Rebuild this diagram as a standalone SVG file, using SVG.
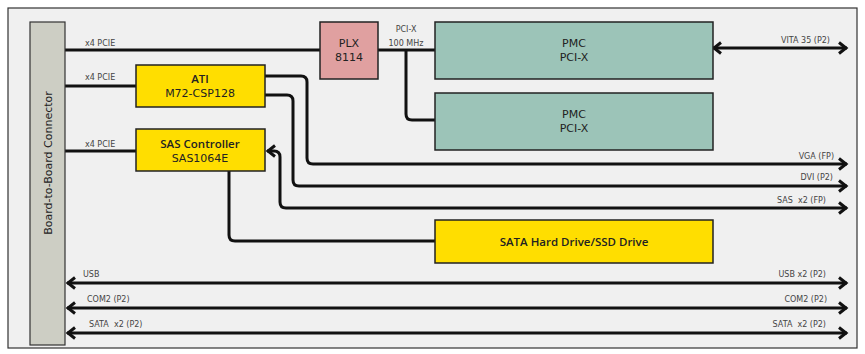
<svg xmlns="http://www.w3.org/2000/svg" width="865" height="354" viewBox="0 0 865 354">
<style>
.box{stroke:#222;stroke-width:1.5}
.yel{fill:#ffde00}
.pmc{fill:#9cc4b8}
.plx{fill:#e0a0a0}
.conn{fill:none;stroke:#111;stroke-width:3}
.t{font-family:"DejaVu Sans",sans-serif;font-size:11px;fill:#222;text-anchor:middle}
.b{font-family:"Open Sans","DejaVu Sans",sans-serif;font-weight:600;font-size:11.5px}
.l{font-family:"DejaVu Sans",sans-serif;font-size:8px;fill:#444;white-space:pre}
.r{text-anchor:end}
.m{text-anchor:middle}
</style>
<defs>
<marker id="ah" markerUnits="userSpaceOnUse" markerWidth="16" markerHeight="16" viewBox="-12 -8 16 16" refX="0" refY="0" orient="auto-start-reverse">
<path d="M-8,-5.5 L-1,0 L-8,5.5" fill="none" stroke="#111" stroke-width="3"/>
</marker>
</defs>
<rect x="8" y="8" width="849" height="340" fill="#f0f0f0" stroke="#333" stroke-width="1.2"/>

<g id="connectors">
<path class="conn" d="M65,50 H320"/>
<path class="conn" d="M378,50 H435"/>
<path class="conn" d="M406,50 V114 Q406,120 412,120 H435"/>
<path class="conn" d="M713,48 H847" marker-start="url(#ah)" marker-end="url(#ah)"/>
<path class="conn" d="M65,86 H136"/>
<path class="conn" d="M65,151 H136"/>
<path class="conn" d="M265,76 H301 Q307,76 307,82 V158 Q307,164 313,164 H847" marker-end="url(#ah)"/>
<path class="conn" d="M265,95 H287 Q293,95 293,101 V180 Q293,186 299,186 H847" marker-end="url(#ah)"/>
<path class="conn" d="M847,208 H286 Q280,208 280,202 V157 Q280,151 274,151 H267" marker-start="url(#ah)" marker-end="url(#ah)"/>
<path class="conn" d="M229,171 V235 Q229,241 235,241 H435"/>
<path class="conn" d="M67,283 H847" marker-start="url(#ah)" marker-end="url(#ah)"/>
<path class="conn" d="M67,308 H847" marker-start="url(#ah)" marker-end="url(#ah)"/>
<path class="conn" d="M67,333 H847" marker-start="url(#ah)" marker-end="url(#ah)"/>
<text class="l" x="85" y="46">x4 PCIE</text>
<text class="l" x="85" y="80">x4 PCIE</text>
<text class="l" x="85" y="147">x4 PCIE</text>
<text class="l m" x="406" y="32">PCI-X</text>
<text class="l m" x="406" y="46">100 MHz</text>
<text class="l r" x="830" y="43">VITA 35 (P2)</text>
<text class="l r" x="834" y="159">VGA (FP)</text>
<text class="l r" x="833" y="180">DVI (P2)</text>
<text class="l r" x="826" y="203" xml:space="preserve">SAS  x2 (FP)</text>
<text class="l" x="83" y="277">USB</text>
<text class="l r" x="826" y="277">USB x2 (P2)</text>
<text class="l" x="87" y="302">COM2 (P2)</text>
<text class="l r" x="827" y="302">COM2 (P2)</text>
<text class="l" x="89" y="327" xml:space="preserve">SATA  x2 (P2)</text>
<text class="l r" x="826" y="327" xml:space="preserve">SATA  x2 (P2)</text>
</g>

<g id="b2b">
<rect x="30" y="22" width="35" height="323" fill="#cdcec4" stroke="#333" stroke-width="1.2"/>
<text class="t" transform="translate(52,163) rotate(-90)">Board-to-Board Connector</text>
</g>
<g id="plx">
<rect class="box plx" x="320" y="22" width="58" height="57"/>
<text class="t" x="349" y="47">PLX</text>
<text class="t" x="349" y="61">8114</text>
</g>
<g id="pmc1">
<rect class="box pmc" x="435" y="22" width="278" height="57"/>
<text class="t" x="574" y="47">PMC</text>
<text class="t" x="574" y="61">PCI-X</text>
</g>
<g id="pmc2">
<rect class="box pmc" x="435" y="93" width="278" height="57"/>
<text class="t" x="574" y="118">PMC</text>
<text class="t" x="574" y="132">PCI-X</text>
</g>
<g id="ati">
<rect class="box yel" x="136" y="65" width="129" height="42"/>
<text class="t b" x="200" y="83">ATI</text>
<text class="t" x="200" y="97">M72-CSP128</text>
</g>
<g id="sas">
<rect class="box yel" x="136" y="129" width="129" height="42"/>
<text class="t b" x="200" y="148">SAS Controller</text>
<text class="t" x="200" y="162">SAS1064E</text>
</g>
<g id="sata">
<rect class="box yel" x="435" y="220" width="278" height="43"/>
<text class="t b" x="574" y="246">SATA Hard Drive/SSD Drive</text>
</g>
</svg>
